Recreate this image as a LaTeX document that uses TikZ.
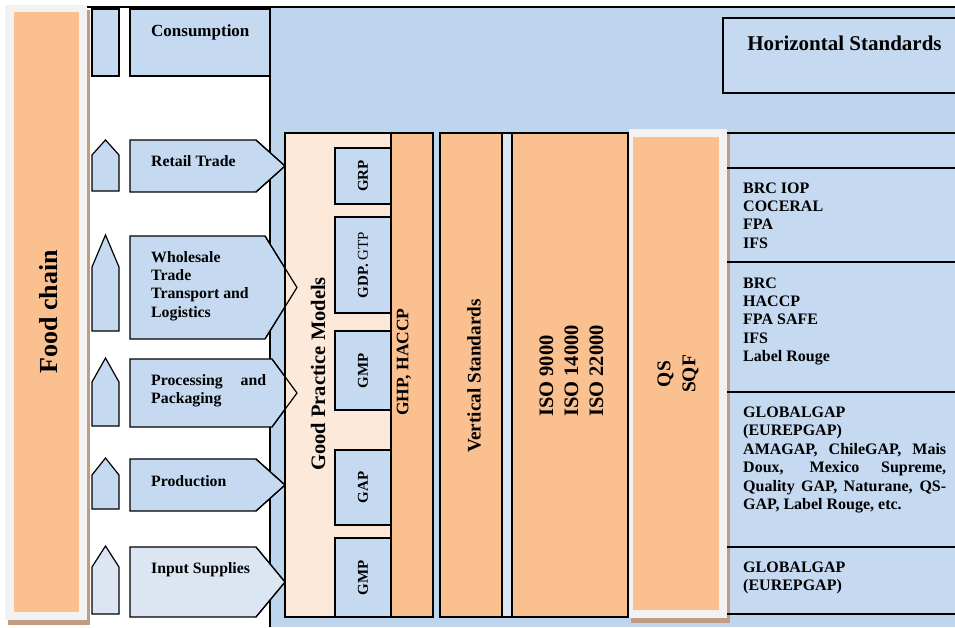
\documentclass[tikz,border=0pt]{standalone}
\usepackage{fontspec}
\setmainfont{Liberation Serif}
\definecolor{bgblue}{RGB}{189,214,238}
\definecolor{boxblue}{RGB}{197,217,241}
\definecolor{paleblue}{RGB}{220,230,242}
\definecolor{stdorange}{RGB}{250,192,144}
\definecolor{peach}{RGB}{253,233,217}
\definecolor{framegray}{RGB}{242,242,242}
\definecolor{shadowbrown}{RGB}{192,156,130}
\newcommand\stagerows{140/155/191/140/192/256/285/boxblue, 235/267/331/236/339/265/297/boxblue,
  358/382/426/359/427/272/297/boxblue, 458/475/509/459/511/256/285/boxblue, 546/567/614/547/617/256/285/paleblue}

\begin{document}
\begin{tikzpicture}[x=1pt, y=-1pt,
  every node/.style = {inner sep=0pt, font=\bfseries},
  box/.style = {draw, line width=1.2pt, fill=boxblue},
  col/.style = {draw, line width=1.2pt, fill=stdorange},
  stage/.style = {font=\fontsize{15.8}{18.3}\selectfont\bfseries, align=left},
  hlist/.style = {font=\fontsize{16}{18.3}\selectfont\bfseries, align=left, anchor=north west},
  upright/.style = {rotate=90}]
  \useasboundingbox (0,0) rectangle (955,627);
  \fill[shadowbrown] (8,10) rectangle (90,625);
  \fill[framegray] (5,5) rectangle (87,620);
  \fill[stdorange] (14,12) rectangle (79,612);
  \node[upright, font=\fontsize{26}{30}\selectfont\bfseries] (foodchain) at (49,312) {Food chain};

  \fill[bgblue] (270,7) rectangle (955,627);
  \draw[line width=2pt] (87,7) -- (955,7);
  \draw[line width=1.2pt] (270,7) -- (270,627);

  \draw[box] (92,9) rectangle (119,76);
  \draw[box] (130,9) rectangle (270,76);
  \node[anchor=base west, font=\fontsize{17}{20}\selectfont\bfseries] (consumption) at (151,36) {Consumption};

  \foreach \ap/\sh/\bt/\ytop/\ylow/\cut/\tip/\shade in \stagerows
    {
    \draw[line width=1.2pt, fill=\shade] (92,\bt) -- (92,\sh) -- (105.5,\ap) -- (119,\sh) -- (119,\bt) -- cycle;
    \draw[line width=1.2pt, fill=\shade] (130,\ytop) -- (\cut,\ytop) -- (\tip,{(\ytop+\ylow)/2}) -- (\cut,\ylow) -- (130,\ylow) -- cycle;
    }

  \draw[line width=1.2pt, fill=peach] (285,133) rectangle (391,617);
  \foreach \ap/\sh/\bt/\ytop/\ylow/\cut/\tip/\shade in \stagerows
    \draw[line width=1.2pt] (\cut,\ytop) -- (\tip,{(\ytop+\ylow)/2}) -- (\cut,\ylow);
  \node[upright, font=\fontsize{20.5}{24}\selectfont\bfseries] (goodpractice) at (318,374) {Good Practice Models};
  \foreach \boxid/\ytop/\ylow/\txt in {grp/148/204/GRP, gdp/217/313/{GDP. \mdseries GTP}, gmpa/331/410/GMP, gap/450/525/GAP, gmpb/538/617/GMP}
    {
    \draw[box] (335,\ytop) rectangle (391,\ylow);
    \node[upright, font=\fontsize{15}{18}\selectfont\bfseries] (\boxid) at (363,{(\ytop+\ylow)/2}) {\txt};
    }

  \node[stage, anchor=base west] (retail) at (151,166) {Retail Trade};
  \node[stage, anchor=north west] (wholesale) at (151,251.2) {Wholesale\\Trade\\Transport and\\Logistics};
  \node[stage, anchor=north west, text width=115pt] (processing) at (151,374.2) {Processing\hfill and\\Packaging};
  \node[stage, anchor=base west] (production) at (151,486) {Production};
  \node[stage, anchor=base west] (input) at (151,573) {Input Supplies};

  \draw[col] (391,133) rectangle (433,617);
  \node[upright, font=\fontsize{17.5}{20}\selectfont\bfseries] (ghp) at (404,362) {GHP, HACCP};
  \draw[col] (440,133) rectangle (502,617);
  \node[upright, font=\fontsize{19.2}{22}\selectfont\bfseries] (vertical) at (474,376) {Vertical Standards};
  \draw[line width=1.2pt, fill=paleblue] (502,133) rectangle (512,617);
  \draw[col] (512,133) rectangle (628,617);
  \node[upright, anchor=west, align=left, font=\fontsize{20.5}{25}\selectfont\bfseries] (iso) at (571.5,417) {ISO 9000\\ISO 14000\\ISO 22000};

  \fill[shadowbrown] (631,134) rectangle (730,623);
  \fill[framegray] (629,129) rectangle (727,618);
  \fill[stdorange] (633,137) rectangle (719,610);
  \node[upright, align=center, font=\fontsize{19.5}{25}\selectfont\bfseries] (qs) at (678,374) {QS\\SQF};

  \fill[boxblue] (730,133) rectangle (955,614);
  \foreach \y in {133,168,262,392,547,614}
    \draw[line width=1.2pt] (727,\y) -- (955,\y);
  \draw[line width=1.2pt, fill=boxblue] (723,18) rectangle (957,93);
  \node[anchor=base, font=\fontsize{21}{24}\selectfont\bfseries] (horizontal) at (844.5,50) {Horizontal Standards};

  \node[hlist] (retailstd) at (743,182.4) {BRC IOP\\COCERAL\\FPA\\IFS};
  \node[hlist] (processstd) at (743,277.4) {BRC\\HACCP\\FPA SAFE\\IFS\\Label Rouge};
  \node[hlist, text width=203pt, align=justify, font=\fontsize{16}{18.5}\selectfont\bfseries] (farmstd) at (743,406.4)
    {GLOBALGAP\newline (EUREPGAP)\newline AMAGAP, ChileGAP, Mais\linebreak Doux, Mexico Supreme,\linebreak Quality GAP, Naturane, QS-\linebreak GAP, Label Rouge, etc.};
  \node[hlist] (inputstd) at (743,561.4) {GLOBALGAP\\(EUREPGAP)};
\end{tikzpicture}
\end{document}
